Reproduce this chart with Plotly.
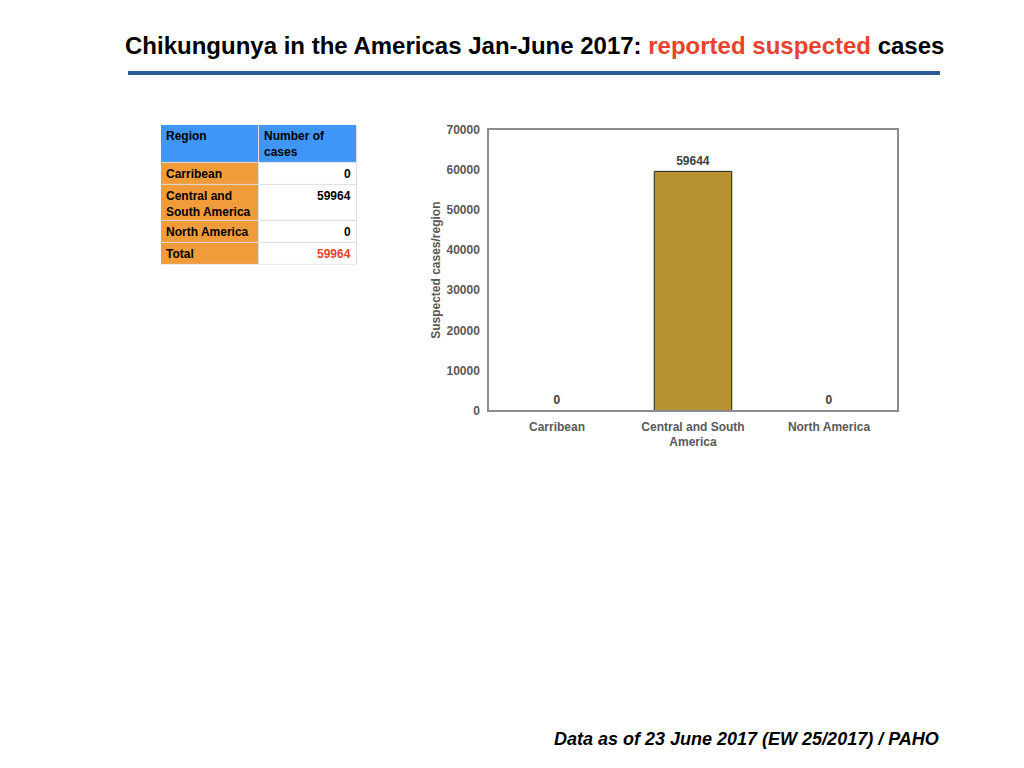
import plotly.graph_objects as go

W, H = 1024, 768
# measured: the page shifts the figure right by its body margin and the
# plotting paper ends up a little shorter than the page, so map pixels onto it
DX = -8
PAPER_TOP, PAPER_H = 14.0, 755.0

# data
regions = ["Carribean", "Central and South America", "North America"]
region_ticks = ["Carribean", "Central and South<br>America", "North America"]
chart_cases = [0, 59644, 0]

table_header = ["Region", "Number of<br>cases"]
table_regions = ["Carribean", "Central and<br>South America", "North America", "Total"]
table_cases = ["0", "59964", "0", "59964"]

title_black = "Chikungunya in the Americas Jan-June 2017: "
title_red = "reported suspected"
title_end = " cases"
footer = "Data as of 23 June 2017 (EW 25/2017) / PAHO"

# table geometry in pixels
col_edges = [0, 98, 196]
row_edges = [0, 38, 60, 96, 118, 140]

BLUE, ORANGE, RED = "#4096f7", "#f09c3b", "#e8412c"


def px_x(v):
    return (v + DX) / W


def px_y(v):
    return 1 - (v - PAPER_TOP) / PAPER_H


fig = go.Figure()

# ---- bar chart
fig.add_trace(go.Bar(
    x=regions, y=chart_cases,
    text=[str(v) for v in chart_cases], textposition="outside",
    textfont=dict(family="Liberation Sans", size=12, color="#404040", weight="bold"),
    marker=dict(color="#b89232",
                line=dict(color="#222222", width=[1 if v else 0 for v in chart_cases])),
    width=0.57, cliponaxis=False, showlegend=False, hoverinfo="x+y",
))

# ---- table as a heatmap on its own axes: 0 header, 1 region column, 2 value column
n_rows = len(table_regions)
z = [[0, 0]] + [[1, 2] for _ in range(n_rows)]
fig.add_trace(go.Heatmap(
    x=col_edges, y=row_edges, z=z, xaxis="x2", yaxis="y2",
    zmin=0, zmax=2, showscale=False, hoverinfo="skip", xgap=1, ygap=1,
    colorscale=[[0, BLUE], [0.25, BLUE], [0.25, ORANGE], [0.75, ORANGE],
                [0.75, "white"], [1, "white"]],
))

fig.add_shape(type="rect", xref="x2", yref="y2", layer="below",
              x0=col_edges[0], x1=col_edges[-1], y0=row_edges[0], y1=row_edges[-1],
              fillcolor="#dcdcdc", line=dict(width=0))

tfont = dict(family="Liberation Sans", size=12, color="black", weight="bold")
for j, txt in enumerate(table_header):
    fig.add_annotation(x=col_edges[j] + 3, y=row_edges[0] + 2, xref="x2", yref="y2",
                       text=txt, showarrow=False, xanchor="left", yanchor="top",
                       align="left", font=tfont)
for i in range(n_rows):
    top = row_edges[i + 1] + 2
    fig.add_annotation(x=col_edges[0] + 3, y=top, xref="x2", yref="y2",
                       text=table_regions[i], showarrow=False, xanchor="left",
                       yanchor="top", align="left", font=tfont)
    fig.add_annotation(x=col_edges[2] - 4, y=top, xref="x2", yref="y2",
                       text=table_cases[i], showarrow=False, xanchor="right",
                       yanchor="top", align="right",
                       font=dict(tfont, color=RED if i == n_rows - 1 else "black"))

axis_font = dict(size=12, color="#595959", weight="bold")
fig.update_layout(
    width=W, height=H,
    margin=dict(l=0, r=0, t=0, b=0),
    paper_bgcolor="white", plot_bgcolor="white",
    font=dict(family="Liberation Sans"),
    xaxis=dict(
        domain=[px_x(489), px_x(897)],
        tickvals=regions, ticktext=region_ticks, tickfont=axis_font,
        ticklabelstandoff=4,
        showline=True, linecolor="#8c8c8c", linewidth=1.5, mirror=True,
        ticks="", showgrid=False,
    ),
    yaxis=dict(
        domain=[px_y(410), px_y(129)],
        range=[0, 70000], dtick=10000, tickformat="d", tickfont=axis_font,
        ticklabelstandoff=5,
        showline=True, linecolor="#8c8c8c", linewidth=1.5, mirror=True,
        ticks="", showgrid=False, zeroline=False,
        title=dict(text="Suspected cases/region", standoff=3, font=axis_font),
    ),
    xaxis2=dict(domain=[px_x(161), px_x(357)], range=[col_edges[0], col_edges[-1]],
                visible=False, fixedrange=True),
    yaxis2=dict(domain=[px_y(124 + row_edges[-1]), px_y(124)],
                range=[row_edges[-1], row_edges[0]], visible=False, fixedrange=True),
)

fig.add_annotation(
    x=px_x(534.5), y=px_y(45), xref="paper", yref="paper",
    text="<b>%s<span style='color:%s'>%s</span>%s</b>" % (title_black, RED, title_red, title_end),
    showarrow=False, xanchor="center", yanchor="middle",
    font=dict(family="Liberation Sans", size=24, color="black"),
)

fig.add_shape(
    type="line", xref="paper", yref="paper",
    x0=px_x(128), x1=px_x(940), y0=px_y(72), y1=px_y(72),
    line=dict(color="#2d5b97", width=4),
)

fig.add_annotation(
    x=px_x(941), y=px_y(739), xref="paper", yref="paper",
    text="<b><i>%s</i></b>" % footer,
    showarrow=False, xanchor="right", yanchor="middle",
    font=dict(family="Liberation Sans", size=18, color="black"),
)

fig.write_html("out.html")
